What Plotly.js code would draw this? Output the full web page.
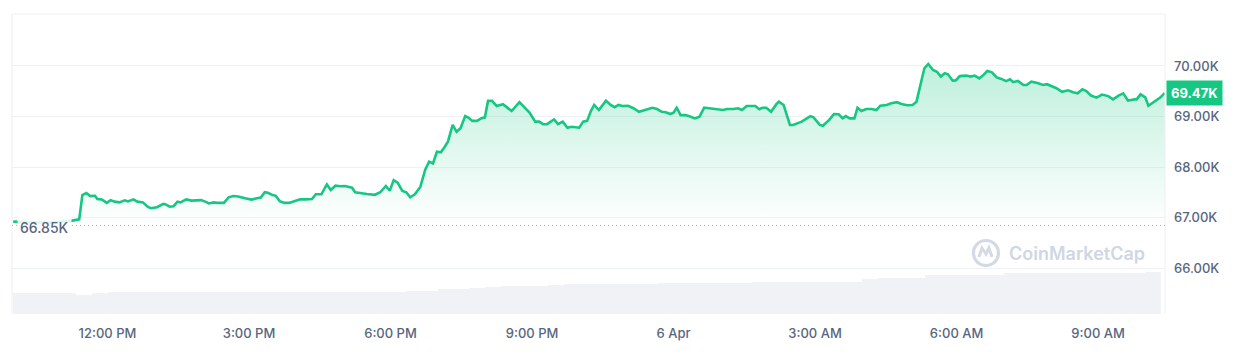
<!DOCTYPE html>
<html>
<head>
<meta charset="utf-8">
<script src="https://cdn.plot.ly/plotly-3.0.1.min.js"></script>
<style>
  html, body { margin: 0; padding: 0; background: #ffffff; }
  #chart { width: 1254px; height: 359px; }
</style>
</head>
<body>
<div id="chart"></div>
<script>
// Time in minutes after 10:00 AM, 5 Apr
const timeMin = [0,21,47,75,84,88,93,98,104,107,112,115,119,124,129,135,142,146,153,158,165,171,175,183,191,194,199,204,209,213,220,227,233,239,245,249,255,259,268,274,280,286,295,303,310,315,320,324,330,334,339,345,351,358,365,372,380,385,392,399,404,410,416,422,428,431,435,441,450,460,467,474,479,484,489,495,500,505,511,518,524,529,534,539,544,549,553,559,564,569,575,579,584,590,595,600,604,609,615,623,634,644,650,657,664,669,674,679,688,693,699,705,710,720,725,730,735,739,745,754,760,765,770,775,782,789,796,806,813,819,825,830,836,840,844,849,855,861,867,873,879,885,895,903,908,916,922,927,933,944,949,953,958,964,971,974,980,988,992,1003,1014,1018,1026,1030,1038,1044,1050,1055,1059,1064,1070,1074,1079,1085,1092,1098,1103,1111,1117,1124,1130,1137,1144,1149,1159,1164,1170,1175,1180,1185,1189,1195,1199,1204,1212,1218,1223,1229,1234,1239,1245,1251,1257,1263,1268,1272,1278,1285,1289,1295,1303,1310,1315,1321,1327,1334,1342,1348,1354,1360,1365,1371,1378,1385,1393,1399,1406,1412,1418,1426,1429,1434,1440,1444,1450,1459,1465];

// BTC price (USD)
const price = [66925,66910,66905,66945,66970,67450,67490,67430,67435,67370,67365,67340,67295,67350,67320,67305,67345,67325,67365,67320,67305,67220,67190,67210,67275,67265,67220,67230,67320,67305,67365,67340,67340,67350,67315,67285,67305,67295,67295,67405,67430,67420,67385,67360,67385,67400,67505,67495,67450,67435,67330,67295,67295,67330,67365,67365,67370,67465,67465,67660,67550,67635,67625,67630,67605,67595,67505,67485,67470,67455,67505,67630,67535,67745,67695,67530,67505,67405,67465,67615,67945,68110,68075,68305,68295,68405,68505,68835,68700,68770,69010,68980,68915,68915,68965,68985,69310,69310,69210,69245,69110,69285,69195,69075,68900,68900,68850,68850,68945,68850,68900,68780,68800,68780,68900,68915,69115,69230,69130,69315,69230,69185,69230,69210,69215,69165,69095,69150,69175,69150,69095,69085,69050,69075,69175,69030,69030,69000,68965,69000,69175,69165,69150,69130,69150,69150,69165,69130,69210,69210,69145,69175,69175,69095,69250,69295,69230,68835,68835,68900,69010,68985,68835,68820,68935,69050,69045,68965,69010,68965,68965,69175,69110,69150,69150,69130,69215,69230,69265,69285,69250,69225,69230,69295,69955,70040,69920,69885,69790,69855,69835,69710,69715,69800,69810,69790,69810,69755,69820,69900,69875,69775,69745,69700,69735,69680,69705,69625,69625,69690,69665,69625,69640,69600,69560,69490,69520,69480,69460,69540,69505,69415,69375,69435,69405,69340,69415,69460,69315,69340,69340,69440,69380,69215,69275,69375,69470];

// Volume bars (billions USD), bar centre times in minutes after 10:00 AM
const volTime = [10,30,50,70,90,110,130,150,170,190,210,230,250,270,290,310,330,350,370,390,410,430,450,470,490,510,530,550,570,590,610,630,650,670,690,710,730,750,770,790,810,830,850,870,890,910,930,950,970,990,1010,1030,1050,1070,1090,1110,1130,1150,1170,1190,1210,1230,1250,1270,1290,1310,1330,1350,1370,1390,1410,1430,1450];
const volume = [13.8,13.8,13.7,13.8,12.8,14.0,14.7,14.6,14.7,14.7,14.8,14.7,14.7,14.6,14.7,14.8,14.7,14.7,14.8,14.7,14.7,14.8,14.7,14.8,14.9,15.5,15.6,16.7,17.0,17.3,18.0,18.7,18.7,19.0,19.3,20.0,20.0,20.1,20.0,20.2,20.1,20.7,20.7,20.8,20.7,20.8,20.9,21.3,21.4,21.3,21.4,21.5,21.4,21.5,23.3,23.8,23.8,24.0,26.0,26.0,26.1,26.0,26.2,27.1,27.1,27.2,27.1,27.2,27.1,27.2,27.3,27.2,28.2];

const openPrice = 66850;
const openLabel = "66.85K";
const lastLabel = "69.47K";

const xTickVals = [120,300,480,660,840,1020,1200,1380];
const xTickText = ["12:00 PM","3:00 PM","6:00 PM","9:00 PM","6 Apr","3:00 AM","6:00 AM","9:00 AM"];
const yTickVals = [66000,67000,68000,69000,70000];
const yTickText = ["66.00K","67.00K","68.00K","69.00K","70.00K"];

const GREEN = '#16c784';
const LABEL = '#58667e';
const GRID = '#eff2f5';
const FONT = 'Inter, "Noto Sans", sans-serif';

const traces = [
  {
    type: 'bar', x: volTime, y: volume, yaxis: 'y2',
    width: 20,
    marker: { color: '#f0f2f5', line: { width: 0 } },
    hoverinfo: 'skip'
  },
  {
    type: 'scatter', mode: 'lines', x: timeMin, y: price,
    line: { color: GREEN, width: 2.6, shape: 'linear' },
    fill: 'tozeroy',
    fillgradient: {
      type: 'vertical',
      start: openPrice, stop: 70050,
      colorscale: [[0, 'rgba(22,199,132,0)'], [1, 'rgba(22,199,132,0.28)']]
    },
    hoverinfo: 'skip'
  }
];

const layout = {
  width: 1254, height: 359,
  margin: { l: 12, r: 89, t: 14, b: 45 },
  paper_bgcolor: '#ffffff', plot_bgcolor: '#ffffff',
  showlegend: false,
  hovermode: false,
  font: { family: FONT, color: LABEL, size: 13 },
  xaxis: {
    range: [-1.5, 1465.1],
    tickvals: xTickVals, ticktext: xTickText,
    showgrid: false, zeroline: false, showline: false, ticks: '',
    ticklabelstandoff: 10,
    tickfont: { family: FONT, size: 13, color: LABEL, weight: 500 },
    fixedrange: true
  },
  yaxis: {
    range: [65100, 71027],
    side: 'right',
    tickvals: yTickVals, ticktext: yTickText,
    showgrid: true, gridcolor: GRID, gridwidth: 1,
    zeroline: false, showline: false, ticks: '',
    ticklabelstandoff: 8,
    tickfont: { family: FONT, size: 13, color: LABEL, weight: 500 },
    fixedrange: true
  },
  yaxis2: {
    overlaying: 'y', range: [0, 200], visible: false, fixedrange: true
  },
  bargap: 0,
  shapes: [
    // frame
    { type: 'line', xref: 'paper', yref: 'paper', x0: 0, x1: 1, y0: 1, y1: 1, line: { color: '#eceff3', width: 1 } },
    { type: 'line', xref: 'paper', yref: 'paper', x0: 0, x1: 0, y0: 0, y1: 1, line: { color: '#eceff3', width: 1 } },
    { type: 'line', xref: 'paper', yref: 'paper', x0: 1, x1: 1, y0: 0, y1: 1, line: { color: '#eceff3', width: 1 } },
    // open-price dotted line
    { type: 'line', xref: 'paper', yref: 'y', x0: 0, x1: 1, y0: openPrice, y1: openPrice,
      line: { color: '#a6b0c3', width: 1, dash: '1px,3px' } },
    // watermark logo
    { type: 'circle', xref: 'paper', yref: 'paper', xsizemode: 'pixel', ysizemode: 'pixel',
      xanchor: 0.8447, yanchor: 0.2033, x0: -12.5, x1: 12.5, y0: -12.5, y1: 12.5,
      line: { color: '#d3d9e5', width: 3.2 } },
    { type: 'path', xref: 'paper', yref: 'paper', xsizemode: 'pixel', ysizemode: 'pixel',
      xanchor: 0.8447, yanchor: 0.2033,
      path: 'M -7,-4 L -4,5 L 0,-1 L 3,5 L 6,-4',
      line: { color: '#d3d9e5', width: 3 } }
  ],
  annotations: [
    { xref: 'paper', yref: 'y', x: 0, y: openPrice, xanchor: 'left', yanchor: 'middle',
      xshift: 5, yshift: -2, text: openLabel, showarrow: false,
      bgcolor: 'rgba(255,255,255,0.85)', borderpad: 2,
      font: { family: FONT, size: 14, color: LABEL, weight: 500 } },
    { xref: 'paper', yref: 'y', x: 1, y: price[price.length - 1], xanchor: 'left', yanchor: 'middle',
      xshift: 1, text: lastLabel, showarrow: false,
      bgcolor: GREEN, borderpad: 4,
      font: { family: FONT, size: 13, color: '#ffffff', weight: 700 } },
    { xref: 'paper', yref: 'paper', x: 0.9844, y: 0.2033, xanchor: 'right', yanchor: 'middle',
      text: 'CoinMarketCap', showarrow: false,
      font: { family: FONT, size: 18, color: '#cfd6e4', weight: 600 } }
  ]
};

Plotly.newPlot('chart', traces, layout, { displayModeBar: false, staticPlot: true });
</script>
</body>
</html>
